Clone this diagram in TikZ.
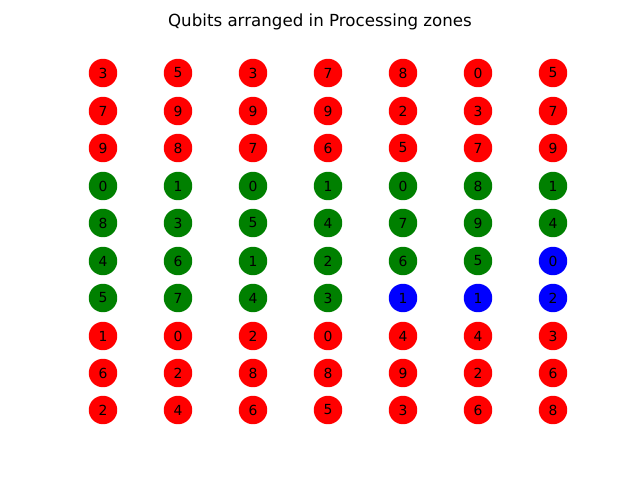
\documentclass[tikz,border=0pt]{standalone}
\usepackage{fontspec}
\setmainfont{DejaVu Sans}
\definecolor{mred}{HTML}{FF0000}
\definecolor{mgreen}{HTML}{008000}
\definecolor{mblue}{HTML}{0000FF}
\tikzset{
  qubit/.style={circle, minimum size=20.5pt, inner sep=0pt, font=\fontsize{10}{12}\selectfont, text=black},
  qR/.style={qubit, fill=mred},
  qG/.style={qubit, fill=mgreen},
  qB/.style={qubit, fill=mblue},
}
\begin{document}
\begin{tikzpicture}[x=0.72pt, y=-0.72pt]
\useasboundingbox (0,0) rectangle (640,480);
\node[font=\fontsize{12}{14}\selectfont] (title) at (320,22) {Qubits arranged in Processing zones};
\foreach \r/\yy/\row in {
 0/73/{R/3,R/5,R/3,R/7,R/8,R/0,R/5},
 1/111/{R/7,R/9,R/9,R/9,R/2,R/3,R/7},
 2/148/{R/9,R/8,R/7,R/6,R/5,R/7,R/9},
 3/186/{G/0,G/1,G/0,G/1,G/0,G/8,G/1},
 4/223/{G/8,G/3,G/5,G/4,G/7,G/9,G/4},
 5/261/{G/4,G/6,G/1,G/2,G/6,G/5,B/0},
 6/298/{G/5,G/7,G/4,G/3,B/1,B/1,B/2},
 7/336/{R/1,R/0,R/2,R/0,R/4,R/4,R/3},
 8/373/{R/6,R/2,R/8,R/8,R/9,R/2,R/6},
 9/410/{R/2,R/4,R/6,R/5,R/3,R/6,R/8}}{
  \foreach \s/\t [count=\c from 0] in \row {
    \pgfmathsetmacro{\xx}{103+75*\c}
    \node[q\s] (n-\r-\c) at (\xx,\yy) {\t};
  }
}
\end{tikzpicture}
\end{document}
